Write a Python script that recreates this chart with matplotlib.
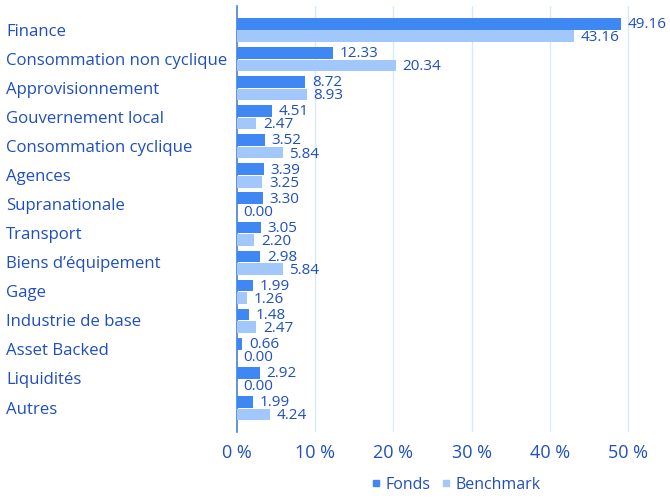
import matplotlib
matplotlib.use("Agg")
import matplotlib.pyplot as plt
from matplotlib.lines import Line2D
import numpy as np

categories = ["Finance", "Consommation non cyclique", "Approvisionnement",
              "Gouvernement local", "Consommation cyclique", "Agences",
              "Supranationale", "Transport", "Biens d\u2019\u00e9quipement", "Gage",
              "Industrie de base", "Asset Backed", "Liquidit\u00e9s", "Autres"]
fonds = [49.16, 12.33, 8.72, 4.51, 3.52, 3.39, 3.30, 3.05, 2.98, 1.99, 1.48, 0.66, 2.92, 1.99]
benchmark = [43.16, 20.34, 8.93, 2.47, 5.84, 3.25, 0.00, 2.20, 5.84, 1.26, 2.47, 0.00, 0.00, 4.24]
xticks = [0, 10, 20, 30, 40, 50]
series_names = ["Fonds", "Benchmark"]

c_fonds = "#3f87f3"
c_bench = "#a2c8fb"
c_text = "#1f4fbf"
c_grid = "#dbe7fb"

plt.rcParams['font.family'] = ['Open Sans', 'DejaVu Sans']

fig = plt.figure(figsize=(6.7, 4.99), dpi=100)
ax = fig.add_axes([237/670, 67/499, 430/670, 426/499])

y = np.arange(len(categories))
h = 0.40
off = 0.215
ax.barh(y - off, fonds, height=h, color=c_fonds, zorder=3)
ax.barh(y + off, benchmark, height=h, color=c_bench, zorder=3)

for i in range(len(categories)):
    ax.text(fonds[i] + 0.85, y[i] - off + 0.03, f"{fonds[i]:.2f}", va="center", ha="left",
            fontsize=11, color=c_text)
    ax.text(benchmark[i] + 0.85, y[i] + off + 0.05, f"{benchmark[i]:.2f}", va="center", ha="left",
            fontsize=11, color=c_text)

ax.set_xlim(0, 55)
ax.set_ylim(13.82, -0.825)
ax.set_xticks(xticks)
ax.set_xticklabels([f"{t} %" for t in xticks], fontsize=13, color=c_text)
ax.set_yticks([])
for t in xticks[1:]:
    ax.axvline(t, color=c_grid, lw=1, zorder=1)
for s in ["top", "right", "bottom"]:
    ax.spines[s].set_visible(False)
ax.spines["left"].set_color("#4a7fd8")
ax.spines["left"].set_linewidth(1.2)
ax.tick_params(axis="x", length=0, pad=9)

for i, c in enumerate(categories):
    ypix = 31.5 + 29.08 * i
    fig.text(6/670, 1 - ypix/499, c, fontsize=12.1, color=c_text, va="center", ha="left")

handles = [Line2D([], [], marker="s", ls="", color=c_fonds, markersize=5),
           Line2D([], [], marker="s", ls="", color=c_bench, markersize=5)]
leg = fig.legend(handles, series_names, loc="center", bbox_to_anchor=(455/670, 1 - 485/499),
                 ncol=2, frameon=False, fontsize=11.5, handletextpad=0.2, columnspacing=0.6,
                 handlelength=0.8)
for t in leg.get_texts():
    t.set_color(c_text)

fig.savefig("out.png", dpi=100)
